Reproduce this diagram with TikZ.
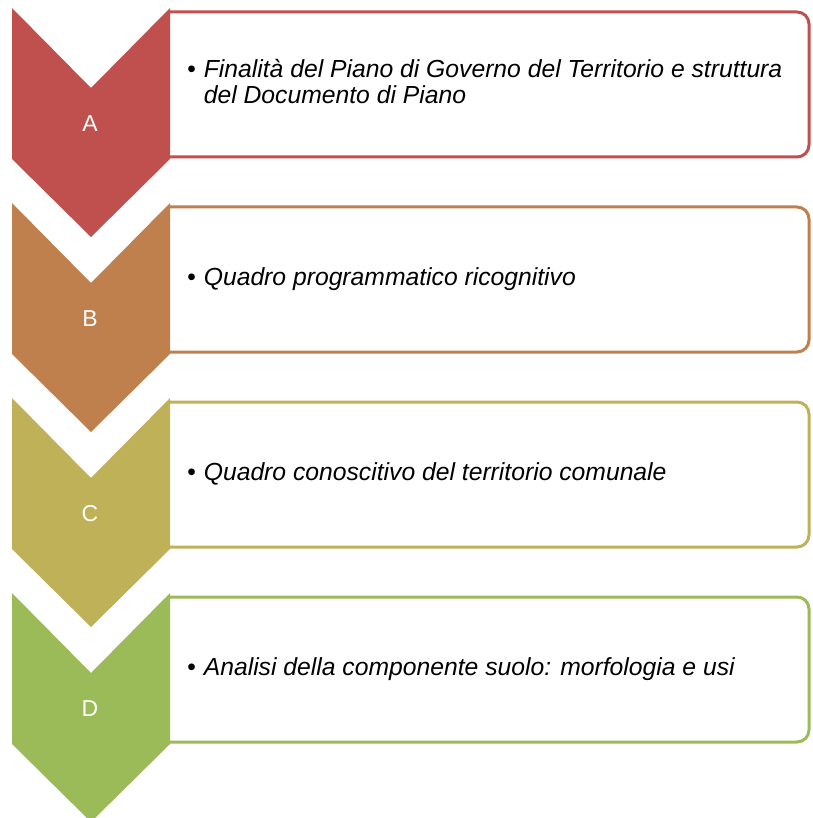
\documentclass[tikz,border=0pt]{standalone}
\usepackage{fontspec}
\setmainfont{Liberation Sans}
\usepackage{tikz}
\usetikzlibrary{positioning}
\definecolor{chevred}{RGB}{192,80,77}
\definecolor{chevorange}{RGB}{192,128,77}
\definecolor{chevolive}{RGB}{190,177,88}
\definecolor{chevgreen}{RGB}{155,187,89}

\tikzset{
    stepletter/.style={text=white, font=\fontsize{23}{24}\selectfont, inner sep=0pt},
    steptext/.style={anchor=west, inner sep=0pt, font=\fontsize{24.7}{25}\selectfont\itshape},
    stepframe/.style={line width=3pt, fill=white, rounded corners=12pt}
}

\begin{document}
\begin{tikzpicture}[x=1pt, y=-1pt]
    \useasboundingbox (0,0) rectangle (812,818);
    \clip (0,0) rectangle (812,818);
    % Steps
    \foreach \i/\lab/\col/\txt in {
        0/A/chevred/{Finalità del Piano di Governo del Territorio e struttura\\ & del Documento di Piano},
        1/B/chevorange/{Quadro programmatico ricognitivo},
        2/C/chevolive/{Quadro conoscitivo del territorio comunale},
        3/D/chevgreen/{Analisi della componente suolo: morfologia e usi}} {
        \pgfmathsetmacro\t{8+195*\i}
        % Frame
        \draw[stepframe, draw=\col] (168,\t+4) -- (809,\t+4) -- (809,\t+149) -- (168,\t+149);
        % Chevron
        \fill[\col] (12,\t) -- (91,\t+80) -- (170,\t) -- (170,\t+151)
            -- (91,\t+229) -- (12,\t+151) -- cycle;
        \node[stepletter] (let\lab) at (90,\t+116) {\lab};
        \node[steptext] (txt\lab) at (187,\t+77)
            {\begin{tabular}{@{}l@{\hspace{8pt}}l@{}}\textbullet & \txt\end{tabular}};
    }
\end{tikzpicture}
\end{document}
